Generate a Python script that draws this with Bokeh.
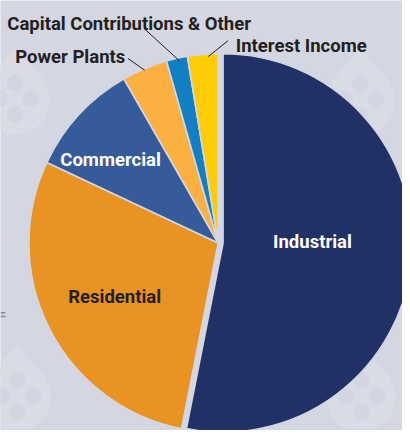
import numpy as np
from bokeh.plotting import figure
from bokeh.models import Range1d, ColumnDataSource
from bokeh.core.properties import value
from bokeh.embed import file_html
from bokeh.resources import INLINE

# ---- data ----
categories = ["Industrial", "Residential", "Commercial", "Power Plants",
              "Capital Contributions & Other", "Interest Income"]
shares = [53.1, 28.9, 9.7, 3.9, 1.8, 2.6]
colors = ["#213065", "#E89322", "#355B9A", "#FBB040", "#127FC2", "#FFCC05"]

BG = "#D4D6E1"
FONT = "Roboto"

p = figure(width=402, height=430, output_backend="svg", toolbar_location=None,
           x_range=Range1d(0, 410), y_range=Range1d(-438, 0),
           min_border=0, background_fill_color=BG, border_fill_color=BG,
           outline_line_color=None)
p.axis.visible = False
p.grid.visible = False

# ---- faint background drops ----
drops = [(15, 100), (367, 101), (17, 403), (368, 403)]
for dx, dy in drops:
    p.patch([dx - 30, dx, dx + 30], [-(dy - 18), -(dy - 52), -(dy - 18)],
            fill_color="#D9DBE5", line_color=None)
    p.circle(dx, -(dy + 2), radius=35, fill_color="#D9DBE5", line_color=None)
    p.circle([dx, dx + 16, dx, dx - 16], [-(dy - 16), -dy, -(dy + 16), -dy],
             radius=8.5, fill_color="#D3D5E0", line_color=None)
p.segment([0, 0], [-318, -322], [5, 5], [-318, -322], line_color="#8A8B91", line_width=1.5)

# ---- pie ----
fr = np.array(shares) / np.sum(shares)
cum = np.concatenate([[0], np.cumsum(fr)])
a_hi = np.pi / 2 - 2 * np.pi * cum[:-1]
a_lo = np.pi / 2 - 2 * np.pi * cum[1:]
cx = [227] + [222] * (len(shares) - 1)
cy = [-247] * len(shares)
src = ColumnDataSource(dict(x=cx, y=cy, start=a_lo, end=a_hi, color=colors, cat=categories))
p.wedge(x="x", y="y", radius=193, start_angle="start", end_angle="end",
        fill_color="color", line_color=BG, line_width=1.6, source=src)

# ---- leader lines ----
p.segment([147, 232, 130], [-29, -41, -59], [182, 212, 147], [-61, -57, -71],
          line_color="#231F20", line_width=1)

# ---- labels ----
lab_x = [278, 69, 61, 15, 7, 240]
lab_y = [-246, -302, -162, -58, -24, -46]
lab_c = ["white", "#231F20", "white", "#231F20", "#231F20", "#231F20"]
p.text(lab_x, lab_y, text=categories, text_color=lab_c, text_font=value(FONT),
       text_font_style="bold", text_font_size="18.5px", text_baseline="alphabetic",
       text_align="left")

open("out.html", "w").write(file_html(p, INLINE))
